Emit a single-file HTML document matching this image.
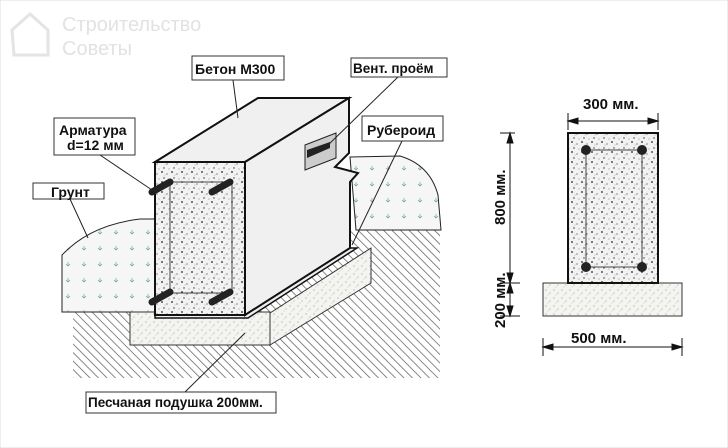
<!DOCTYPE html>
<html><head><meta charset="utf-8"><style>
html,body{margin:0;padding:0;background:#fff}
svg{display:block}
text{font-family:"Liberation Sans",sans-serif;font-weight:bold;fill:#111}
</style></head><body>
<svg width="728" height="448" viewBox="0 0 728 448" xmlns="http://www.w3.org/2000/svg">
<defs>
<pattern id="hatch" width="6" height="6" patternUnits="userSpaceOnUse" patternTransform="rotate(-45)">
<rect width="6" height="6" fill="#fff"/><line x1="0" y1="0" x2="0" y2="6" stroke="#555" stroke-width="1.4"/>
</pattern>
<pattern id="sand" width="8" height="8" patternUnits="userSpaceOnUse">
<rect width="8" height="8" fill="#f4f4f0"/><circle cx="2" cy="2" r=".6" fill="#999"/><circle cx="6" cy="5" r=".6" fill="#aaa"/><circle cx="4" cy="7" r=".5" fill="#bbb"/>
</pattern>
<pattern id="conc" width="10" height="10" patternUnits="userSpaceOnUse">
<rect width="10" height="10" fill="#f2f2f2"/><circle cx="2" cy="2" r=".9" fill="#222"/><circle cx="7" cy="4" r=".6" fill="#444"/><circle cx="4" cy="8" r=".7" fill="#333"/><circle cx="9" cy="9" r=".5" fill="#666"/><circle cx="5" cy="5" r=".4" fill="#777"/>
</pattern>
<pattern id="grass" width="16" height="16" patternUnits="userSpaceOnUse">
<rect width="16" height="16" fill="#f6f6f6"/><path d="M4 6v4M2 8l2 2 2-2" stroke="#7a7" stroke-width=".7" fill="none"/>
</pattern>
</defs>
<rect x="0" y="0" width="728" height="448" fill="#fff" stroke="#ddd"/>
<!-- watermark -->
<text x="62" y="31" style="font-size:20px;font-weight:normal;fill:#e2e2e2">Строительство</text>
<text x="62" y="55" style="font-size:20px;font-weight:normal;fill:#e2e2e2">Советы</text>
<path d="M12 30 L30 14 L48 30 V55 H14 Z" fill="none" stroke="#e4e4e4" stroke-width="3"/>
<!-- hatched soil -->
<polygon points="73,312 155,312 155,290 350,230 440,230 440,378 73,378" fill="url(#hatch)"/>
<!-- soil mounds -->
<path d="M62,255 Q90,225 140,219 L155,219 L155,312 L62,312 Z" fill="url(#grass)" stroke="#222" stroke-width="1"/>
<path d="M350,157 L400,156 Q430,165 438,195 L441,230 L356,230 Z" fill="url(#grass)" stroke="#222" stroke-width="1"/>
<!-- sand pad -->
<polygon points="270,313 371,248 371,283 270,345" fill="url(#sand)" stroke="#333"/>
<rect x="130" y="312" width="140" height="33" fill="url(#sand)" stroke="#333"/>
<!-- base strip -->
<polygon points="155,312 247,312 350,248 357,248 248,318 155,318" fill="#eee" stroke="#111" stroke-width="1.5"/>
<!-- block -->
<polygon points="155,162 258,98 349,98 245,162" fill="#f0f0f0" stroke="#111" stroke-width="2"/>
<polygon points="245,162 349,98 349,153 335,167 358,173 350,182 350,248 245,315" fill="#f0f0f0" stroke="#111" stroke-width="2"/>
<rect x="155" y="162" width="90" height="153" fill="url(#conc)" stroke="#111" stroke-width="2"/>
<rect x="170" y="182" width="62" height="111" fill="none" stroke="#444" stroke-width="1"/>
<g stroke="#222" stroke-width="7" stroke-linecap="round">
<line x1="152" y1="192" x2="170" y2="182"/><line x1="212" y1="192" x2="230" y2="182"/>
<line x1="152" y1="302" x2="170" y2="292"/><line x1="212" y1="302" x2="230" y2="292"/>
</g>
<!-- vent -->
<polygon points="305,145 336,133 336,158 305,170" fill="#ccc" stroke="#222"/>
<polygon points="307,150 330,142 330,148 307,158" fill="#222"/>
<!-- leaders -->
<g stroke="#222" stroke-width="1" fill="none">
<line x1="233" y1="80" x2="238" y2="118"/>
<line x1="398" y1="77" x2="325" y2="148"/>
<line x1="402" y1="141" x2="352" y2="245"/>
<line x1="100" y1="155" x2="152" y2="190"/>
<line x1="70" y1="199" x2="88" y2="238"/>
<line x1="185" y1="392" x2="245" y2="333"/>
</g>
<!-- labels -->
<g fill="#fff" stroke="#333">
<rect x="192" y="56" width="92" height="24"/><rect x="351" y="58" width="96" height="19"/>
<rect x="362" y="116" width="81" height="25"/><rect x="54" y="118" width="81" height="37"/>
<rect x="33" y="183" width="71" height="16"/><rect x="86" y="392" width="190" height="21"/>
</g>
<text x="195" y="74" style="font-size:14px">Бетон  М300</text>
<text x="353" y="73" style="font-size:13.5px">Вент. проём</text>
<text x="367" y="135" style="font-size:14px">Рубероид</text>
<text x="59" y="135" style="font-size:14px">Арматура</text>
<text x="67" y="150" style="font-size:14px">d=12 мм</text>
<text x="51" y="197" style="font-size:14px">Грунт</text>
<text x="88" y="407" style="font-size:13.5px">Песчаная подушка 200мм.</text>
<!-- right section -->
<rect x="543" y="283" width="139" height="33" fill="url(#sand)" stroke="#333"/>
<rect x="568" y="133" width="90" height="150" fill="url(#conc)" stroke="#111" stroke-width="2"/>
<rect x="586" y="150" width="56" height="117" fill="none" stroke="#444"/>
<g fill="#222"><circle cx="586" cy="150" r="5"/><circle cx="642" cy="150" r="5"/><circle cx="586" cy="267" r="5"/><circle cx="642" cy="267" r="5"/></g>
<g stroke="#111" stroke-width="1" fill="#111">
<line x1="568" y1="113" x2="568" y2="130"/><line x1="658" y1="113" x2="658" y2="130"/>
<line x1="568" y1="121" x2="658" y2="121"/><polygon points="568,121 578,118 578,124"/><polygon points="658,121 648,118 648,124"/>
<line x1="500" y1="133" x2="515" y2="133"/><line x1="500" y1="283" x2="520" y2="283"/><line x1="500" y1="316" x2="520" y2="316"/>
<line x1="510" y1="133" x2="510" y2="316"/>
<polygon points="510,133 507,143 513,143"/><polygon points="510,283 507,273 513,273"/>
<polygon points="510,283 507,293 513,293"/><polygon points="510,316 507,306 513,306"/>
<line x1="543" y1="338" x2="543" y2="356"/><line x1="682" y1="338" x2="682" y2="356"/>
<line x1="543" y1="347" x2="682" y2="347"/><polygon points="543,347 553,344 553,350"/><polygon points="682,347 672,344 672,350"/>
</g>
<text x="583" y="109" style="font-size:15px">300 мм.</text>
<text x="571" y="343" style="font-size:15px">500 мм.</text>
<text transform="translate(505,225) rotate(-90)" style="font-size:15px">800 мм.</text>
<text transform="translate(505,328) rotate(-90)" style="font-size:15px">200 мм.</text>
</svg>
</body></html>
